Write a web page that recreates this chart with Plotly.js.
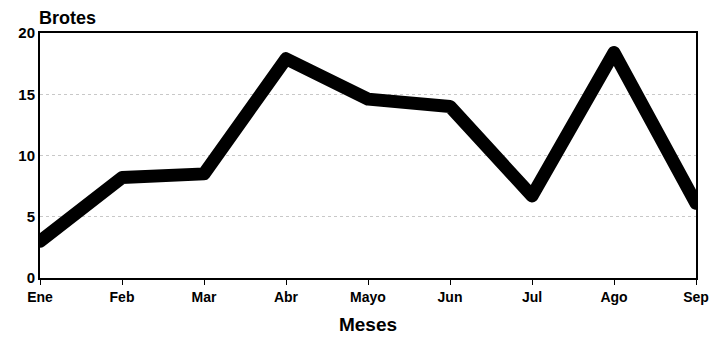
<!DOCTYPE html>
<html>
<head>
<meta charset="utf-8">
<script src="https://cdn.plot.ly/plotly-3.0.1.min.js"></script>
<style>
html,body{margin:0;padding:0;background:#fff;}
#chart{width:713px;height:352px;}
#chart .js-line{stroke-linecap:round;stroke-linejoin:round;}
</style>
</head>
<body>
<div id="chart"></div>
<script>
// Monthly outbreak counts
const months = ["Ene", "Feb", "Mar", "Abr", "Mayo", "Jun", "Jul", "Ago", "Sep"];
const outbreaks = [3.0, 8.2, 8.5, 17.9, 14.6, 14.0, 6.7, 18.4, 6.1];
const yTicks = [0, 5, 10, 15, 20];

const fontFamily = "Liberation Sans, Arial, sans-serif";

const trace = {
  x: months,
  y: outbreaks,
  type: "scatter",
  mode: "lines",
  line: { color: "#000", width: 13 },
  hoverinfo: "skip"
};

const layout = {
  width: 713,
  height: 352,
  margin: { l: 40, r: 17, t: 33, b: 74 },
  paper_bgcolor: "#fff",
  plot_bgcolor: "#fff",
  showlegend: false,
  font: { family: fontFamily, color: "#000" },
  xaxis: {
    type: "category",
    range: [0, months.length - 1],
    showline: true, linecolor: "#000", linewidth: 2, mirror: true,
    ticks: "outside", ticklen: 5, tickcolor: "#000", tickwidth: 1,
    tickfont: { size: 14, weight: "bold", family: fontFamily },
    showgrid: false, zeroline: false,
    title: { text: "Meses", font: { size: 19, weight: "bold", family: fontFamily }, standoff: 14 }
  },
  yaxis: {
    range: [0, 20],
    tickvals: yTicks,
    showline: true, linecolor: "#000", linewidth: 2, mirror: true,
    ticks: "",
    tickfont: { size: 15, weight: "bold", family: fontFamily },
    showgrid: true, gridcolor: "#c8c8c8", gridwidth: 1, griddash: "dot",
    zeroline: false
  },
  annotations: [{
    text: "Brotes", xref: "paper", yref: "paper", x: -0.004, y: 1.0,
    xanchor: "left", yanchor: "bottom", yshift: 3, showarrow: false,
    font: { size: 18, weight: "bold", family: fontFamily }
  }]
};

Plotly.newPlot("chart", [trace], layout, { staticPlot: true, displayModeBar: false });
</script>
</body>
</html>
